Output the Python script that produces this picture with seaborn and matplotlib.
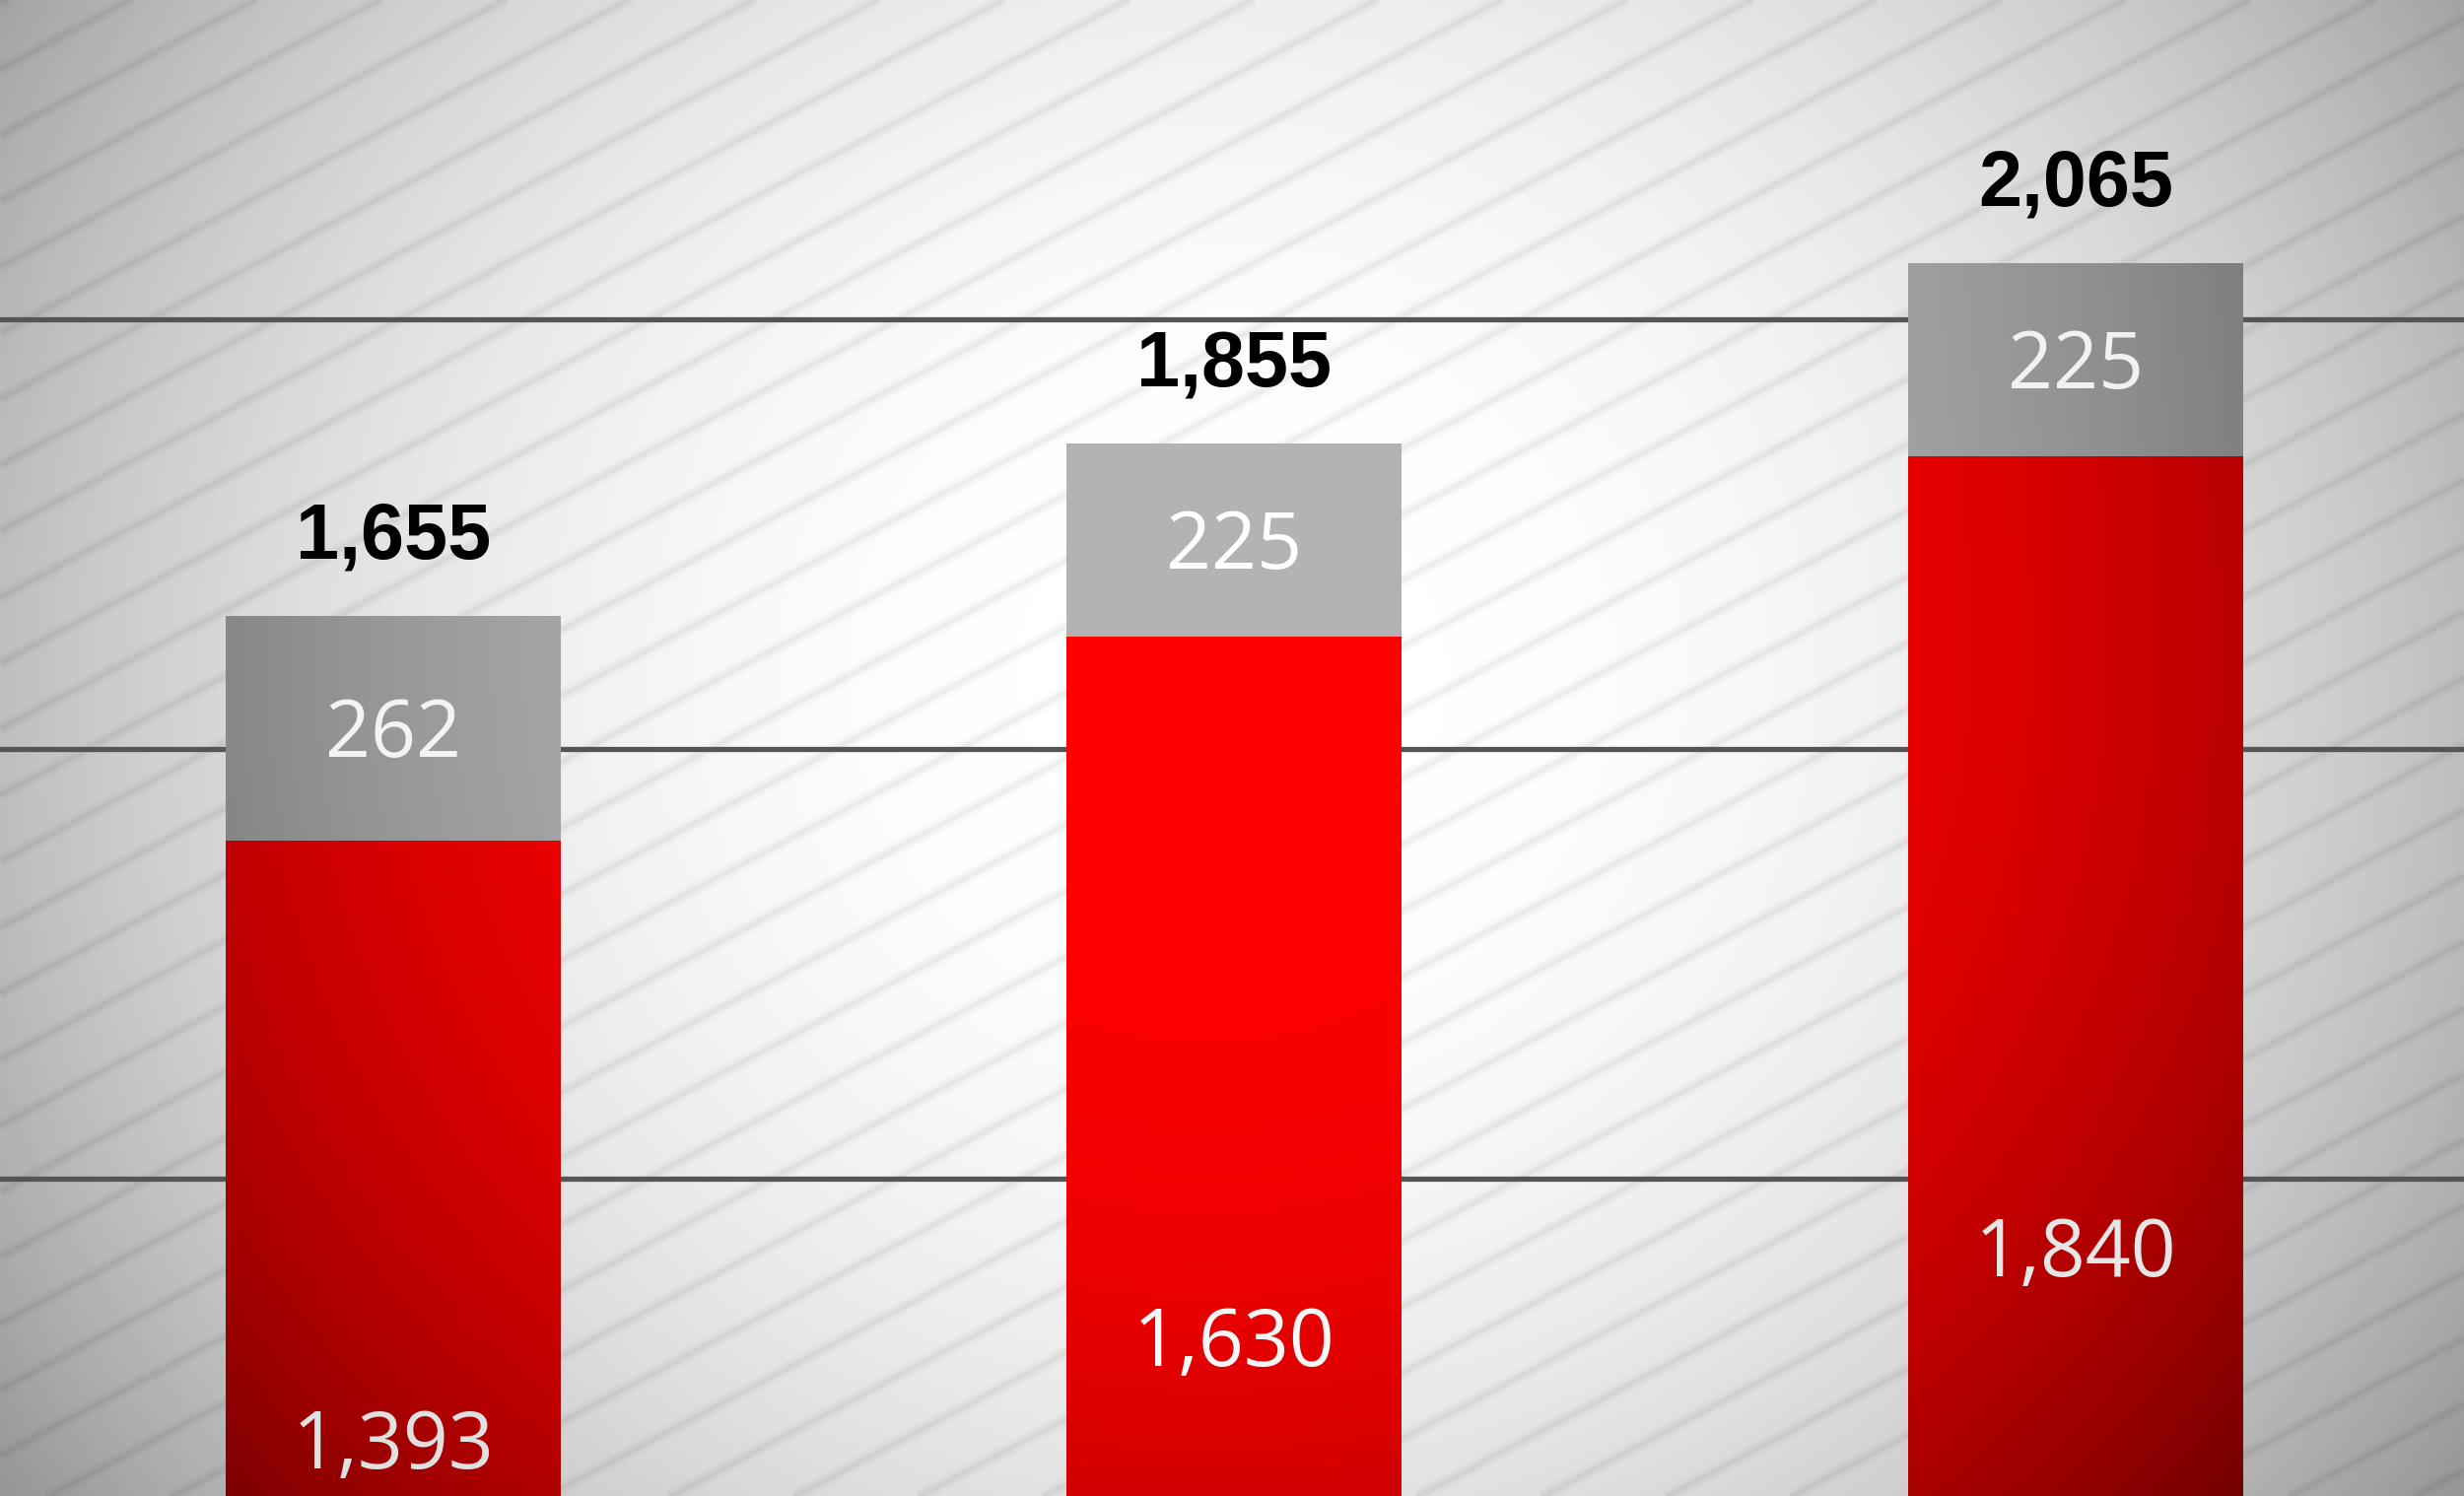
import numpy as np
import matplotlib
matplotlib.use("Agg")
import matplotlib.pyplot as plt
import seaborn as sns

# ---- data ----
categories = ["Year 1", "Year 2", "Year 3"]
base_values = [1393, 1630, 1840]
top_values = [262, 225, 225]
totals = [1655, 1855, 2065]
grid_values = [1000, 1500, 2000]

W, H = 2500, 1518
fig = plt.figure(figsize=(25, 15.18), dpi=100)
ax = fig.add_axes([0, 0, 1, 1])


def bg_field(X, T):
    dx = (X - 0.5) / 0.5
    dy = (T - 0.45) / 0.55
    r2 = dx ** 2 + 0.5 * dy ** 2
    return np.clip(0.255 * r2 ** 1.2, 0, 1)


def bar_field(X, T):
    dx = (X - 0.49) / 0.5
    dy = (T - 0.45) / 0.55
    w = np.where(T > 0.45, 0.5, 0.1)
    r2 = dx ** 2 + w * dy ** 2
    return np.clip(0.435 * r2 ** 1.27, 0, 1)


nx, ny = 500, 304
X, T = np.meshgrid(np.linspace(0, 1, nx), np.linspace(0, 1, ny))

# background with vignette
bg = 1 - bg_field(X, T)
ax.imshow(bg, cmap="gray", vmin=0, vmax=1, extent=[0, 1, 0, 1],
          transform=ax.transAxes, aspect="auto", zorder=0,
          interpolation="bilinear")

# diagonal stripe texture (soft)
slope = 0.53
for c in np.arange(-1500, H + 100, 67):
    for lw, al in ((9, 0.025), (4, 0.04)):
        ax.plot([0, 1], [c / H, (c + slope * W) / H], transform=ax.transAxes,
                color="black", alpha=al, lw=lw, zorder=0.3,
                solid_capstyle="butt")

# bars
sns.barplot(x=categories, y=totals, color="#b3b3b3", width=0.398,
            saturation=1, ax=ax, zorder=2, linewidth=0, edgecolor="none")
gray_patches = list(ax.patches)
sns.barplot(x=categories, y=base_values, color="#ff0000", width=0.398,
            saturation=1, ax=ax, zorder=2.1, linewidth=0, edgecolor="none")

# bar shading (vignette clipped to bars)
rgba = np.zeros((ny, nx, 4))
rgba[..., 3] = bar_field(X, T)
for gp in gray_patches:
    im = ax.imshow(rgba, extent=[0, 1, 0, 1], transform=ax.transAxes,
                   aspect="auto", zorder=2.5, interpolation="bilinear")
    im.set_clip_path(gp)

xlim = (-0.467, 2.4615)
ylim = (630.6, 2371.1)
ax.set_xlim(*xlim)
ax.set_ylim(*ylim)

ax.set_yticks(grid_values)
ax.yaxis.grid(True, color="#555555", lw=3.8)
ax.xaxis.grid(False)
ax.set_axisbelow(True)
ax.tick_params(left=False, bottom=False, labelleft=False, labelbottom=False)
for s in ax.spines.values():
    s.set_visible(False)
ax.set_xlabel("")
ax.set_ylabel("")


def frac(x, y):
    xf = (x - xlim[0]) / (xlim[1] - xlim[0])
    tf = 1 - (y - ylim[0]) / (ylim[1] - ylim[0])
    return np.array(xf), np.array(tf)


for i in range(len(categories)):
    ax.annotate(f"{totals[i]:,}", xy=(i, totals[i]), xytext=(0, 42),
                textcoords="offset points", ha="center", va="baseline",
                fontsize=57, fontweight="bold", family="Liberation Sans",
                color="black", zorder=5)
    ym = base_values[i] + top_values[i] / 2
    g = float(1 - 0.3 * bar_field(*frac(i, ym)))
    ax.annotate(f"{top_values[i]:,}", xy=(i, ym), xytext=(0, -21),
                textcoords="offset points", ha="center", va="baseline",
                fontsize=58, family="Open Sans", color=(g, g, g), zorder=5)
    yb = base_values[i] / 2
    g = float(1 - 0.33 * bar_field(*frac(i, yb)))
    ax.annotate(f"{base_values[i]:,}", xy=(i, yb), xytext=(0, -21),
                textcoords="offset points", ha="center", va="baseline",
                fontsize=58, family="Open Sans", color=(g, g, g), zorder=5)

fig.savefig("out.png", dpi=100)
